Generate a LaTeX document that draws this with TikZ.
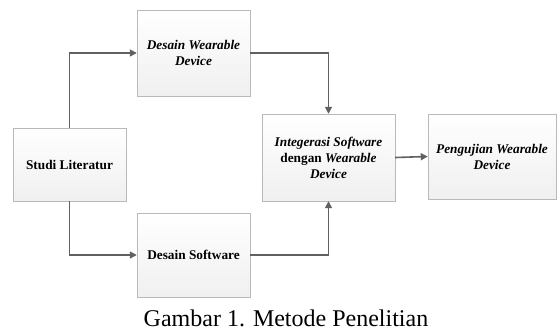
\documentclass[tikz,border=0pt]{standalone}
\usepackage{fontspec}
\setmainfont{Liberation Serif}
\usetikzlibrary{shapes.geometric, arrows, arrows.meta, positioning, calc, shadows}
\tikzstyle{process} = [rectangle, minimum width=113pt, minimum height=84pt, text centered, align=center, draw=gray!55, top color=white, bottom color=gray!12, drop shadow={opacity=0.15, shadow xshift=1pt, shadow yshift=-1pt}, font=\fontsize{13.3}{16}\selectfont\bfseries]
\tikzstyle{arrow} = [line width=1.6pt, draw=black!62, ->, >={Triangle[length=7pt, width=7pt]}]

\begin{document}
\begin{tikzpicture}[x=1pt, y=1pt]
\useasboundingbox (0, 0) rectangle (557, 330);

  \node[process, minimum height=73pt] (studi) at (69.5, 165.5) {Studi Literatur};
  \node[process, minimum height=86pt] (desainwear) at (193.5, 277) {\itshape Desain Wearable\\ \itshape Device};
  \node[process] (desainsoft) at (193.5, 75) {Desain Software};
  \node[process, minimum width=133pt, minimum height=87pt] (integrasi) at (328.5, 172.5) {\itshape Integerasi Software\\ dengan \itshape Wearable\\ \itshape Device};
  \node[process, minimum width=128pt, minimum height=85pt] (pengujian) at (492, 173.5) {\itshape Pengujian Wearable\\ \itshape Device};

  \draw[arrow] (studi.north) |- (desainwear.west);
  \draw[arrow] (studi.south) |- (desainsoft.west);
  \draw[arrow] (desainwear.east) -| (integrasi.north);
  \draw[arrow] (desainsoft.east) -| (integrasi.south);
  \draw[arrow] (integrasi.east) -- (pengujian.west);

  \node[anchor=base, font=\fontsize{24}{28}\selectfont] (caption) at (286, 4) {Gambar 1. Metode Penelitian};

\end{tikzpicture}
\end{document}
